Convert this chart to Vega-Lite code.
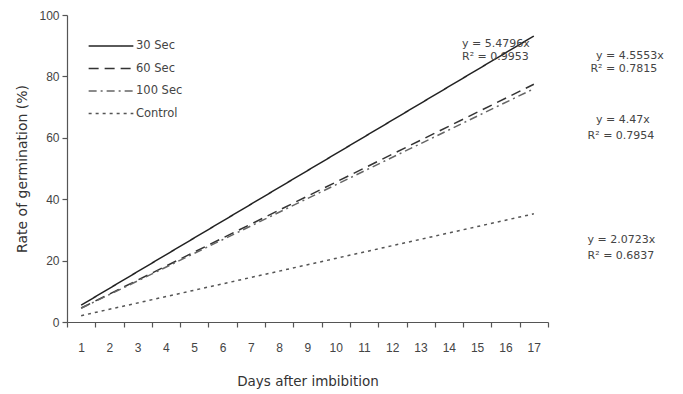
{
  "$schema": "https://vega.github.io/schema/vega-lite/v6.json",
  "width": 481,
  "height": 307,
  "autosize": {"type": "none"},
  "padding": {"left": 67, "top": 15, "right": 135, "bottom": 72},
  "background": "white",
  "config": {
    "view": {"stroke": null},
    "font": "Liberation Sans",
    "axis": {"domainColor": "#555", "tickColor": "#555", "labelColor": "#444", "titleColor": "#333", "labelFont": "Liberation Sans", "titleFont": "DejaVu Sans", "labelFontSize": 12, "titleFontSize": 13.5, "titleFontWeight": "normal", "grid": false, "domainWidth": 1.2, "tickWidth": 1.2}
  },
  "datasets": {
    "lines": [
      {"day": 1, "rate": 5.48, "series": "30 Sec"},
      {"day": 17, "rate": 93.15, "series": "30 Sec"},
      {"day": 1, "rate": 4.56, "series": "60 Sec"},
      {"day": 17, "rate": 77.44, "series": "60 Sec"},
      {"day": 1, "rate": 4.47, "series": "100 Sec"},
      {"day": 17, "rate": 75.99, "series": "100 Sec"},
      {"day": 1, "rate": 2.07, "series": "Control"},
      {"day": 17, "rate": 35.23, "series": "Control"}
    ],
    "labels": [
      {"day": 14.46, "rate": 90.6, "text": "y = 5.4796x"},
      {"day": 14.46, "rate": 86.2, "text": "R² = 0.9953"},
      {"day": 19.2, "rate": 86.8, "text": "y = 4.5553x"},
      {"day": 19.0, "rate": 82.4, "text": "R² = 0.7815"},
      {"day": 19.2, "rate": 65.9, "text": "y = 4.47x"},
      {"day": 18.9, "rate": 60.5, "text": "R² = 0.7954"},
      {"day": 18.9, "rate": 26.8, "text": "y = 2.0723x"},
      {"day": 18.9, "rate": 21.6, "text": "R² = 0.6837"}
    ]
  },
  "encoding": {
    "x": {
      "field": "day", "type": "quantitative",
      "scale": {"domain": [0.5, 17.5], "nice": false, "zero": false},
      "axis": {
        "title": "Days after imbibition",
        "values": [0.5, 1.5, 2.5, 3.5, 4.5, 5.5, 6.5, 7.5, 8.5, 9.5, 10.5, 11.5, 12.5, 13.5, 14.5, 15.5, 16.5, 17.5],
        "labelExpr": "datum.value > 17 ? '' : format(datum.value + 0.5, 'd')",
        "labelOffset": 14,
        "labelPadding": 15,
        "tickSize": 5,
        "titlePadding": 21,
        "labelFlush": false,
        "labelOverlap": false
      }
    },
    "y": {
      "field": "rate", "type": "quantitative",
      "scale": {"domain": [0, 100], "nice": false},
      "axis": {"title": "Rate of germination (%)", "titleFontSize": 14, "values": [0, 20, 40, 60, 80, 100], "tickSize": 5, "labelPadding": 3, "titlePadding": 9}
    }
  },
  "layer": [
    {
      "data": {"name": "lines"},
      "mark": {"type": "line", "strokeWidth": 1.5, "clip": false},
      "encoding": {
        "color": {
          "field": "series", "type": "nominal",
          "sort": ["30 Sec", "60 Sec", "100 Sec", "Control"],
          "scale": {"domain": ["30 Sec", "60 Sec", "100 Sec", "Control"], "range": ["#222222", "#333333", "#666666", "#555555"]},
          "legend": {
            "orient": "none", "legendX": 32, "legendY": 19, "title": null,
            "symbolType": "M-2,0H2", "symbolSize": 500, "symbolStrokeWidth": 1.5,
            "labelFont": "DejaVu Sans", "labelFontSize": 11.5, "labelColor": "#444", "rowPadding": 4.5, "labelOffset": 13
          }
        },
        "strokeDash": {
          "field": "series", "type": "nominal",
          "sort": ["30 Sec", "60 Sec", "100 Sec", "Control"],
          "scale": {"domain": ["30 Sec", "60 Sec", "100 Sec", "Control"], "range": [[1, 0], [10, 6], [8, 4, 2, 4], [3, 4]]},
          "legend": null
        }
      }
    },
    {
      "data": {"name": "labels"},
      "mark": {"type": "text", "align": "left", "baseline": "middle", "fontSize": 11, "color": "#444", "font": "DejaVu Sans"},
      "encoding": {
        "text": {"field": "text"}
      }
    }
  ]
}
